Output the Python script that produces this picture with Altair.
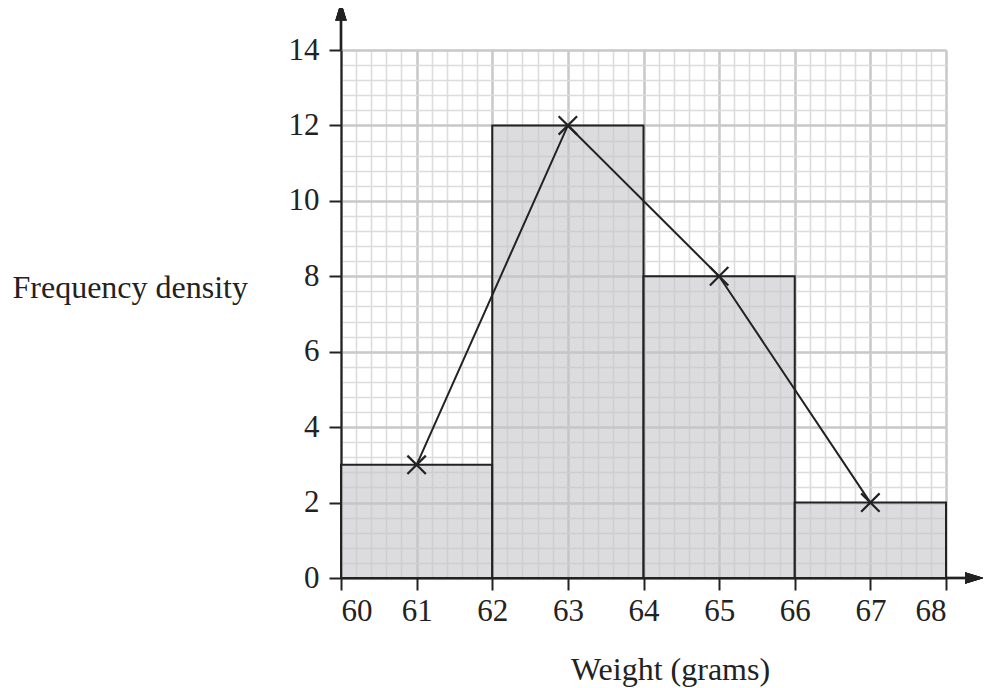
import altair as alt
import pandas as pd
import numpy as np

# Histogram classes and frequency densities
class_lo = [60, 62, 64, 66]
class_hi = [62, 64, 66, 68]
freq_density = [3, 12, 8, 2]

# Frequency polygon points (class midpoints)
mid_x = [61, 63, 65, 67]
mid_y = [3, 12, 8, 2]

x_ticks = [60, 61, 62, 63, 64, 65, 66, 67, 68]
y_ticks = [0, 2, 4, 6, 8, 10, 12, 14]

bars = pd.DataFrame({"lo": class_lo, "hi": class_hi, "fd": freq_density, "zero": [0] * 4})
poly = pd.DataFrame({"x": mid_x, "y": mid_y})

FONT = "Liberation Serif"
FS = 31

xs = alt.Scale(domain=[60, 68], nice=False, zero=False)
ys = alt.Scale(domain=[0, 14], nice=False)

minor_x = [round(v, 2) for v in np.arange(60, 68.01, 0.2)]
minor_y = [round(v, 2) for v in np.arange(0, 14.01, 0.4)]


def grid_axis(values, color, width, orient):
    return alt.Axis(values=values, grid=True, gridColor=color, gridWidth=width,
                    labels=False, ticks=False, domain=False, title=None,
                    orient=orient)


grid_minor = alt.Chart(bars).mark_rect(opacity=0).encode(
    x=alt.X("lo:Q", scale=xs, axis=grid_axis(minor_x, "#dcdcdc", 1.6, "bottom")),
    x2="hi:Q",
    y=alt.Y("fd:Q", scale=ys, axis=grid_axis(minor_y, "#dcdcdc", 1.6, "left")),
    y2="zero:Q",
)

grid_major = alt.Chart(bars).mark_rect(opacity=0).encode(
    x=alt.X("lo:Q", scale=xs, axis=grid_axis(x_ticks, "#c9c9c9", 2.5, "bottom")),
    x2="hi:Q",
    y=alt.Y("fd:Q", scale=ys, axis=grid_axis(y_ticks, "#c9c9c9", 2.5, "left")),
    y2="zero:Q",
)

hist = alt.Chart(bars).mark_rect(
    fill="#c4c5ca", fillOpacity=0.6, stroke="#222222", strokeWidth=2
).encode(
    x=alt.X("lo:Q", scale=xs, axis=alt.Axis(
        values=x_ticks, format="d", grid=False, orient="bottom",
        domainColor="#222222", domainWidth=2.2, tickColor="#222222", tickWidth=2,
        tickSize=12, labelPadding=6, labelFont=FONT, labelFontSize=FS,
        labelColor="#222222", title="Weight (grams)", titleFont=FONT,
        titleFontSize=32, titleFontWeight="normal", titleColor="#222222",
        titleAlign="center", titleBaseline="alphabetic", titleX=329, titleY=101)),
    x2="hi:Q",
    y=alt.Y("fd:Q", scale=ys, axis=alt.Axis(
        values=y_ticks, format="d", grid=False, orient="left",
        domainColor="#222222", domainWidth=2.2, tickColor="#222222", tickWidth=2,
        tickSize=12, labelPadding=10, labelFont=FONT, labelFontSize=FS,
        labelColor="#222222", title="Frequency density", titleFont=FONT,
        titleFontSize=32, titleFontWeight="normal", titleColor="#222222",
        titleAngle=0, titleAlign="left", titleBaseline="alphabetic",
        titleX=-329, titleY=247)),
    y2="zero:Q",
)

# Axis arrow extensions
y_ext = alt.Chart(bars).mark_rule(color="#222222", strokeWidth=2.2, clip=False).encode(
    x=alt.datum(60, scale=xs, axis=None), y=alt.datum(14, scale=ys, axis=None),
    y2=alt.datum(14.8))
x_ext = alt.Chart(bars).mark_rule(color="#222222", strokeWidth=2.2, clip=False).encode(
    x=alt.datum(68, scale=xs, axis=None), x2=alt.datum(68.3),
    y=alt.datum(0, scale=ys, axis=None))
y_arrow = alt.Chart(bars).mark_point(
    shape="M0,-1L0.55,0.8L-0.55,0.8Z", filled=True, fill="#222222", opacity=1,
    size=420, clip=False).encode(
    x=alt.datum(60, scale=xs, axis=None), y=alt.datum(15.0, scale=ys, axis=None))
x_arrow = alt.Chart(bars).mark_point(
    shape="M1,0L-0.8,0.55L-0.8,-0.55Z", filled=True, fill="#222222", opacity=1,
    size=420, clip=False).encode(
    x=alt.datum(68.36, scale=xs, axis=None), y=alt.datum(0, scale=ys, axis=None))

line = alt.Chart(poly).mark_line(color="#222222", strokeWidth=2).encode(
    x=alt.X("x:Q", scale=xs, axis=None), y=alt.Y("y:Q", scale=ys, axis=None))
crosses = alt.Chart(poly).mark_point(
    shape="M-1,-1L1,1M1,-1L-1,1", filled=False, stroke="#222222",
    strokeWidth=2.2, size=340, opacity=1).encode(
    x=alt.X("x:Q", scale=xs, axis=None), y=alt.Y("y:Q", scale=ys, axis=None))

chart = alt.layer(
    grid_minor, grid_major, hist, y_ext, x_ext, y_arrow, x_arrow, line, crosses
).resolve_axis(x="independent", y="independent").properties(
    width=605, height=528,
    autosize=alt.AutoSizeParams(type="none"),
    padding={"left": 333, "top": 42, "right": 37, "bottom": 110},
).configure_view(stroke=None).configure(background="white")

chart.save("out.html", embed_options={"renderer": "svg", "actions": False})
